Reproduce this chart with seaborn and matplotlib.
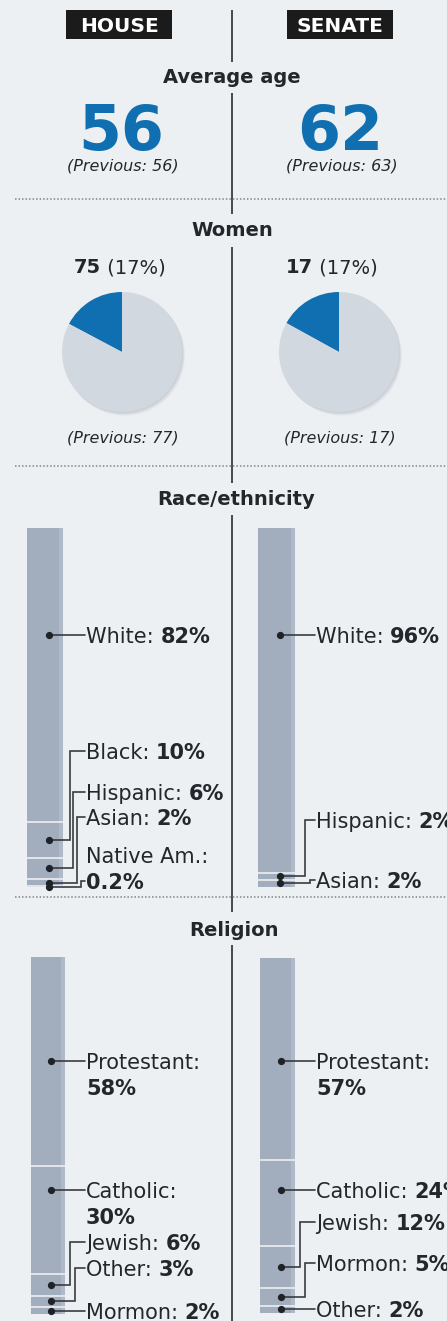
"""Congress demographics infographic: House vs Senate (age, women, race, religion)."""
import matplotlib
matplotlib.use('Agg')
import pandas as pd
import matplotlib.pyplot as plt
from matplotlib.patches import Rectangle
import seaborn as sns

W, H = 447, 1321

# --- data ---------------------------------------------------------------
chambers = ['HOUSE', 'SENATE']
avg_age = [56, 62]
avg_age_prev = [56, 63]
women = [75, 17]
women_pct = [17, 17]
women_prev = [77, 17]
seats = [435, 100]

race_house_groups = ['White', 'Black', 'Hispanic', 'Asian', 'Native Am.']
race_house_pct = [82, 10, 6, 2, 0.2]
race_senate_groups = ['White', 'Hispanic', 'Asian']
race_senate_pct = [96, 2, 2]

relig_house_groups = ['Protestant', 'Catholic', 'Jewish', 'Other', 'Mormon']
relig_house_pct = [58, 30, 6, 3, 2]
relig_senate_groups = ['Protestant', 'Catholic', 'Jewish', 'Mormon', 'Other']
relig_senate_pct = [57, 24, 12, 5, 2]

# --- style --------------------------------------------------------------
BG = '#edf0f3'
BAR = '#a2adbe'
SEP = '#e2e6ec'
BLUE = '#0f6fb0'
PIE_GRAY = '#d2d8df'
INK = '#23262b'
LINE = '#383b40'

sns.set_theme(style='white')
plt.rcParams['font.family'] = ['DejaVu Sans']

fig = plt.figure(figsize=(W / 100, H / 100), dpi=100, facecolor=BG)


def px_axes(x, y, w, h):
    return fig.add_axes([x / W, 1 - (y + h) / H, w / W, h / H])


def stacked_bar(box, groups, pct):
    ax = px_axes(*box)
    df = pd.DataFrame({'group': groups, 'pct': pct})
    df['cum'] = df['pct'][::-1].cumsum()[::-1]
    df['mid'] = df['cum'] - df['pct'] / 2
    df['col'] = 'all'
    sns.barplot(data=df, x='col', y='cum', hue='group', hue_order=groups,
                dodge=False, palette=[BAR] * len(groups), saturation=1,
                width=1, linewidth=0, legend=False, ax=ax)
    ax.hlines(df['cum'].iloc[1:], -0.5, 0.5, color=SEP, lw=1.4)
    ax.axvspan(0.38, 0.5, color='white', alpha=0.15, lw=0)
    ax.set_xlim(-0.5, 0.5)
    ax.set_ylim(0, df['cum'].iloc[0])
    ax.set_axis_off()
    return ax, df


# bars (pixel boxes: x, y, w, h)
bars = [
    (stacked_bar((27, 528, 36, 359), race_house_groups, race_house_pct), 86,
     [(635, None, 0), (751, 70, 0), (792, 73, 0), (817, 77, 0), (881, 81, -26)]),
    (stacked_bar((258, 528, 37, 359), race_senate_groups, race_senate_pct), 316,
     [(635, None, 0), (820, 305, 0), (880, 310, 0)]),
    (stacked_bar((31, 957, 34, 357), relig_house_groups, relig_house_pct), 86,
     [(1061, None, 26), (1190, None, 26), (1242, 70, 0), (1268, 75, 0), (1311, None, 0)]),
    (stacked_bar((260, 958, 35, 355), relig_senate_groups, relig_senate_pct), 316,
     [(1061, None, 26), (1190, None, 0), (1222, 300, 0), (1263, 305, 0), (1309, None, 0)]),
]

# pies
for i, cx in enumerate([122, 339]):
    axp = px_axes(cx - 66, 352 - 66, 132, 132)
    vals = [women[i], seats[i] - women[i]]
    for k, a in enumerate([0.10, 0.12, 0.16]):
        off = 0.06 - k * 0.018
        axp.pie(vals, colors=['#8f98a3'] * 2, center=(off * 0.8, -off),
                startangle=90, wedgeprops={'linewidth': 0, 'alpha': a})
    axp.pie(vals, colors=[BLUE, PIE_GRAY], startangle=90, counterclock=True,
            wedgeprops={'linewidth': 0})
    axp.set_xlim(-1.1, 1.1)
    axp.set_ylim(-1.1, 1.1)
    axp.set_axis_off()

# overlay in pixel coordinates
ov = fig.add_axes([0, 0, 1, 1])
ov.set_xlim(0, W)
ov.set_ylim(H, 0)
ov.set_axis_off()


def label(x, y, s, size, weight='normal', style='normal', ha='left', color=INK):
    base = y + 0.365 * size * 100 / 72
    return ov.text(x, base, s, fontsize=size, fontweight=weight, fontstyle=style,
                   ha=ha, va='baseline', color=color, clip_on=False)


def rich(x, y, parts, size, ha='left'):
    t = label(x, y, parts[0][0], size, weight=parts[0][1], ha=ha)
    for s, w in parts[1:]:
        t = ov.annotate(s, xy=(1, 0), xycoords=t, va='bottom', ha='left',
                        fontsize=size, fontweight=w, color=INK)
    return t


def to_px(ax, x, y):
    return ov.transData.inverted().transform(ax.transData.transform((x, y)))


# center divider and section rules
for y0, y1 in [(10, 62), (93, 214), (247, 483), (515, 912), (945, 1321)]:
    ov.plot([232, 232], [y0, y1], color=LINE, lw=1.3, solid_capstyle='butt')
for y in [199, 466, 897]:
    ov.plot([15, W], [y, y], color='#80858c', lw=1.1, ls=(0, (1, 1.3)))

# chamber headers
for name, bx in zip(chambers, [66, 287]):
    ov.add_patch(Rectangle((bx, 10), 106, 29, color='#1b1b1b', lw=0))
    label(bx + 53, 24.5, name, 14.5, weight='bold', ha='center', color='white')

# section titles
for s, x, y in [('Average age', 232, 76), ('Women', 232, 229),
                ('Race/ethnicity', 236, 498), ('Religion', 234, 929)]:
    label(x, y, s, 14, weight='bold', ha='center')

# average age
for i, cx in enumerate([121, 340]):
    ov.text(cx, 150, str(avg_age[i]), fontsize=44.5, fontweight='bold',
            color=BLUE, ha='center', va='baseline')
    label(cx + 2, 165, f'(Previous: {avg_age_prev[i]})', 11.5, style='italic', ha='center')

# women
for i, sx in enumerate([101, 313]):
    rich(sx, 266, [(str(women[i]), 'bold'), (f' ({women_pct[i]}%)', 'normal')], 14, ha='right')
    label([122, 339][i] + 1, 437, f'(Previous: {women_prev[i]})', 11.5, style='italic', ha='center')

# bar labels with leader lines
for (ax, df), tx, layout in bars:
    for (g, p, mid), (ly, ex, off) in zip(df[['group', 'pct', 'mid']].values, layout):
        val = f'{p:g}%'
        if ex is None:
            dx = to_px(ax, 0.1, 0)[0]
            dy = ly
            xs, ys = [dx, tx - 1], [ly, ly]
        else:
            dx, dy = to_px(ax, 0.1, mid)
            xs, ys = [dx, ex, ex, tx - 1], [dy, dy, ly, ly]
        ov.plot(xs, ys, color=LINE, lw=1.2, solid_joinstyle='miter')
        ov.plot([dx], [dy], 'o', color='#1f2226', ms=4.2)
        if off > 0:
            label(tx, ly, f'{g}:', 15)
            label(tx, ly + off, val, 15, weight='bold')
        elif off < 0:
            label(tx, ly + off, f'{g}:', 15)
            label(tx, ly, val, 15, weight='bold')
        else:
            rich(tx, ly, [(f'{g}: ', 'normal'), (val, 'bold')], 15)

fig.savefig('out.png', dpi=100, facecolor=BG)
